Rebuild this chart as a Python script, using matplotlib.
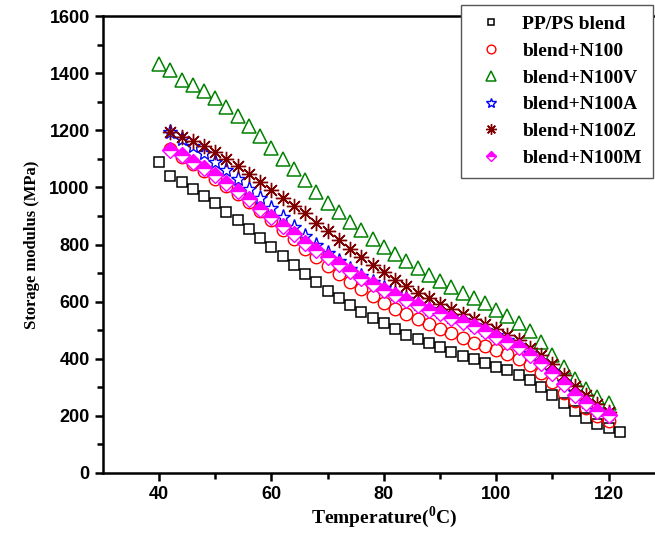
import matplotlib.pyplot as plt
import numpy as np

plt.rcParams['mathtext.fontset'] = 'custom'
plt.rcParams['mathtext.rm'] = 'Liberation Serif:bold'
plt.rcParams['mathtext.bf'] = 'Liberation Serif:bold'

# temperatures (C)
t_blend = list(range(40, 124, 2))
t_v = list(range(40, 122, 2))
t_rest = list(range(42, 122, 2))

pp_ps = [1090, 1041, 1019, 994, 969, 945, 914, 885, 854, 823, 791, 760, 728, 697,
         669, 638, 614, 588, 565, 544, 524, 503, 485, 469, 455, 440, 425, 411, 399,
         386, 372, 359, 343, 326, 301, 273, 244, 218, 194, 173, 156, 145]
n100 = [1135, 1108, 1082, 1058, 1029, 1005, 977, 948, 916, 886, 852, 818, 786, 755,
        725, 696, 668, 644, 620, 597, 574, 556, 538, 521, 505, 489, 472, 457, 445,
        431, 417, 399, 378, 350, 320, 281, 251, 226, 199, 183]
n100v = [1432, 1411, 1378, 1360, 1338, 1312, 1283, 1251, 1215, 1180, 1139, 1100, 1064,
         1025, 983, 947, 913, 880, 850, 820, 792, 766, 741, 719, 694, 673, 652, 632,
         614, 594, 572, 550, 525, 496, 460, 413, 372, 330, 295, 266, 245]
n100a = [1193, 1170, 1146, 1120, 1091, 1062, 1030, 996, 963, 928, 895, 863, 831, 800,
         769, 741, 714, 690, 669, 648, 628, 610, 592, 576, 563, 547, 535, 520, 502,
         484, 466, 448, 420, 392, 358, 318, 282, 250, 222, 208]
n100z = [1193, 1178, 1162, 1145, 1123, 1100, 1074, 1048, 1020, 991, 962, 936, 909, 876,
         846, 817, 786, 756, 730, 703, 677, 654, 631, 612, 591, 573, 556, 538, 521,
         503, 483, 466, 439, 413, 382, 343, 305, 273, 240, 212]
n100m = [1130, 1113, 1090, 1068, 1043, 1017, 988, 958, 926, 897, 866, 836, 807, 782,
         755, 732, 708, 683, 662, 641, 623, 606, 588, 571, 560, 543, 530, 515, 496,
         478, 460, 442, 414, 385, 350, 310, 274, 244, 216, 204]

fig = plt.figure(figsize=(6.55, 5.33), dpi=100)
ax = fig.add_axes([0.157, 0.1126, 0.858, 0.857])

ax.plot(t_blend, pp_ps, ls='none', marker='s', ms=7, mfc='none', mec='black', mew=1.1, label='PP/PS blend')
ax.plot(t_rest, n100, ls='none', marker='o', ms=9, mfc='none', mec='red', mew=1.0, label='blend+N100')
ax.plot(t_v, n100v, ls='none', marker='^', ms=10, mfc='none', mec='green', mew=1.1, label='blend+N100V')
ax.plot(t_rest, n100a, ls='none', marker='*', ms=11, mfc='none', mec='blue', mew=1.0, label='blend+N100A')
ax.plot(t_rest, n100z, ls='none', marker=(8, 2, 0), ms=11, color='#800000', mew=1.0, label='blend+N100Z')
ax.plot(t_rest, n100m, ls='none', marker='D', ms=8, fillstyle='top', mfc='magenta',
        mfcalt='white', mec='magenta', mew=1.0, label='blend+N100M')

ax.set_xlim(30, 130)
ax.set_ylim(0, 1600)
ax.set_xticks([40, 60, 80, 100, 120])
ax.set_xticks([50, 70, 90, 110], minor=True)
ax.set_yticks(np.arange(0, 1601, 200))
ax.set_yticks(np.arange(100, 1600, 200), minor=True)

for s in ax.spines.values():
    s.set_linewidth(1.8)
ax.tick_params(which='major', direction='out', length=6, width=1.8)
ax.tick_params(which='minor', direction='out', length=4, width=1.8)
ax.tick_params(top=False, right=False)
for lab in ax.get_xticklabels() + ax.get_yticklabels():
    lab.set_fontfamily('Liberation Sans')
    lab.set_fontweight('bold')
    lab.set_fontsize(13)

ax.set_xlabel('Temperature($^{0}$C)', fontfamily='Liberation Serif', fontweight='bold', fontsize=14, labelpad=1)
ax.set_ylabel('Storage modulus (MPa)', fontfamily='Liberation Serif', fontweight='bold', fontsize=12, labelpad=7)

leg = ax.legend(loc='upper left', bbox_to_anchor=(0.704, 0.991), bbox_transform=fig.transFigure,
                prop={'family': 'Liberation Serif', 'weight': 'bold', 'size': 14},
                fancybox=False, framealpha=1, edgecolor='#555555', markerscale=0.7,
                handletextpad=0.6, labelspacing=0.47, borderpad=0.55, handlelength=2.0,
                borderaxespad=0)
leg.get_frame().set_linewidth(1.0)

plt.savefig('out.png', dpi=100)
